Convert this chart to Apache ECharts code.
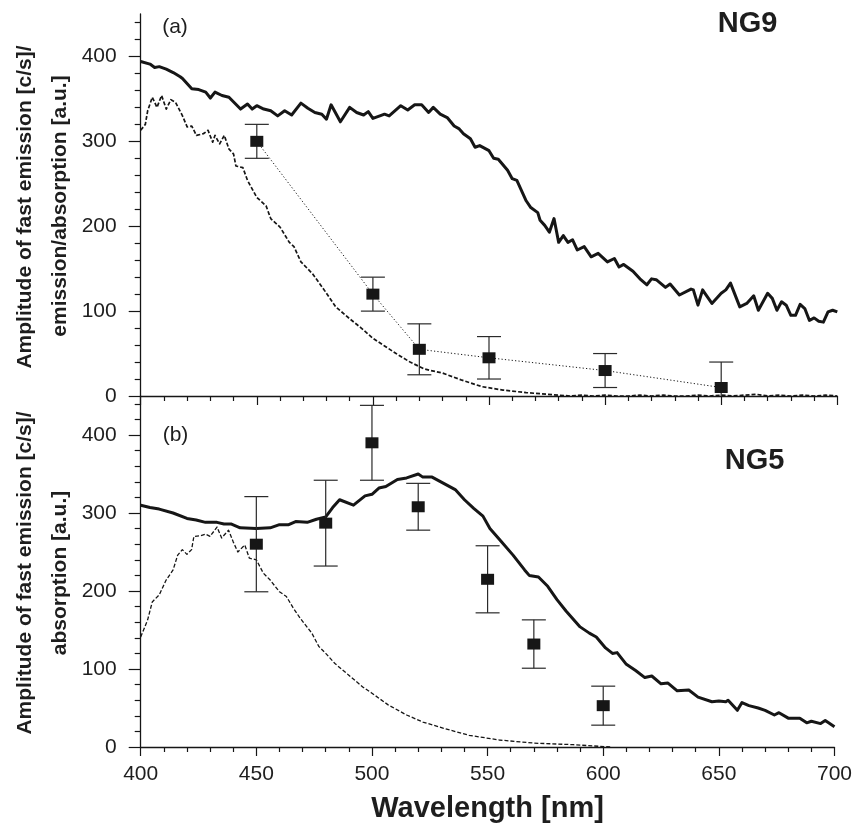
<!DOCTYPE html>
<html>
<head>
<meta charset="utf-8">
<script src="https://cdn.jsdelivr.net/npm/echarts@6/dist/echarts.min.js"></script>
<style>
  html, body { margin: 0; padding: 0; background: #fff; }
  #chart { width: 855px; height: 824px; }
</style>
</head>
<body>
<div id="chart"></div>
<script>
// ---- Panel (a): NG9 ----
const ng9EmissionWl = [400,404,406,408,411,414,417,418,422,425,428,430,432,435,438,443,446,448,450,453,456,459,462,465,469,472,475,478,480,482,486,490,493,496,498,500,503,505,507,512,515,518,521,524,526,529,532,535,537,539,542,544,546,550,552,554,558,560,562,564,566,568,571,572,574,576,578,580,582,584,586,588,591,594,597,601,604,606,608,612,615,618,620,622,626,628,632,637,638,640,642,643,646,650,652,654,658,661,664,666,670,672,674,676,678,680,682,684,686,688,690,692,694,696,698,700];
const ng9Emission = [394,391,387,388,385,381,376,374,362,361,358,351,358,354,352,338,344,338,342,338,336,330,336,331,345,339,334,332,326,343,323,340,334,331,335,327,330,332,330,342,337,343,343,334,340,332,328,318,315,309,303,293,295,289,280,279,266,256,254,242,230,222,216,207,201,193,209,181,189,181,184,172,176,164,168,158,162,152,155,147,138,131,138,137,128,132,119,126,125,107,125,121,109,121,125,133,105,109,118,101,121,115,101,111,107,95,95,108,103,89,92,88,87,99,101,99];

const ng9AbsorptionWl = [400,402,403,405,407,409,411,413,415,418,420,422,424,427,429,431,432,434,436,438,440,441,444,446,450,454,456,460,464,466,469,474,479,484,490,495,500,505,510,516,522,525,530,538,547,556,566,580,585,590,595,600,605,610,615,620,625,630,635,640,645,650,655,660,665,670,675,680,685,690,695,700];
const ng9Absorption = [313,320,336,352,340,354,338,349,346,330,317,318,307,309,313,299,307,297,307,291,285,271,269,254,234,224,209,199,181,176,158,144,125,105,91,80,68,59,50,40,32,30,27,19,11,7,4,1,0,1,0,1,0,0,1,0,1,0,0,1,0,1,0,1,2,0,1,0,1,0,1,0];

const ng9FastWl = [450, 500, 520, 550, 600, 650];
const ng9Fast = [300, 120, 55, 45, 30, 10];
const ng9FastErr = [20, 20, 30, 25, 20, 30];

// ---- Panel (b): NG5 ----
const ng5EmissionWl = [400,404,408,414,420,424,428,433,436,439,443,450,456,460,464,467,472,476,480,483,486,492,497,500,503,506,511,515,520,522,526,531,536,540,544,548,551,556,561,566,568,572,576,580,584,590,594,597,601,604,606,610,614,618,621,625,628,632,637,641,647,650,653,654,658,660,663,667,670,674,676,680,685,688,690,694,696,700];
const ng5Emission = [310,307,305,300,293,291,288,288,286,286,281,280,281,285,285,289,288,292,295,307,317,310,322,324,332,334,343,345,350,346,346,338,330,317,306,296,280,263,246,227,220,218,206,189,174,154,146,141,127,120,121,106,98,89,91,81,82,72,73,64,58,59,58,60,47,57,53,50,47,41,44,37,37,31,33,30,34,26];

const ng5AbsorptionWl = [400,403,405,408,411,414,416,418,420,422,423,426,428,430,433,435,438,440,442,445,447,450,453,456,460,463,466,469,474,477,480,484,490,496,500,507,515,522,531,542,555,570,587,603];
const ng5Absorption = [141,163,186,195,214,227,246,253,247,253,270,271,273,270,282,268,278,263,250,259,242,240,223,214,199,193,178,165,146,129,120,107,92,77,69,54,41,32,24,15,9,5,3,0];

const ng5FastWl = [450, 480, 500, 520, 550, 570, 600];
const ng5Fast = [260, 287, 390, 308, 215, 132, 53];
const ng5FastErr = [61, 55, 48, 30, 43, 31, 25];

// ---- Axis ticks ----
const xMin = 400, xMax = 700, xStep = 50;
const yMin = 0, yMax = 450;
const yMajorTicks = [0, 100, 200, 300, 400];
const yMinorTicks = [20, 40, 60, 80, 120, 140, 160, 180, 220, 240, 260, 280, 320, 340, 360, 380, 420, 440];

const pairs = (xs, ys) => xs.map((x, i) => [x, ys[i]]);
const triples = (xs, ys, es) => xs.map((x, i) => [x, ys[i], es[i]]);

const INK = '#161616';
const TEXT = '#1e1e1e';
const FONT = '"Liberation Sans", Arial, Helvetica, sans-serif';

function xAxisFor(gridIndex, withLabels) {
  return {
    type: 'value', gridIndex, min: xMin, max: xMax, interval: xStep,
    axisLine: { show: true, lineStyle: { color: INK, width: 1.3 } },
    axisTick: { show: true, length: 9, lineStyle: { color: INK, width: 1.2 } },
    minorTick: { show: true, splitNumber: 5, length: 5, lineStyle: { color: INK, width: 1.2 } },
    splitLine: { show: false },
    axisLabel: { show: withLabels, fontSize: 21, color: TEXT, fontFamily: FONT, margin: 17 },
    name: withLabels ? 'Wavelength [nm]' : '',
    nameLocation: 'middle', nameGap: 47,
    nameTextStyle: { fontSize: 29, fontWeight: 'bold', color: TEXT, fontFamily: FONT }
  };
}

function yAxesFor(gridIndex) {
  return [{
    type: 'value', gridIndex, min: yMin, max: yMax, position: 'left',
    axisLine: { show: true, lineStyle: { color: INK, width: 1.3 } },
    axisTick: { show: true, length: 12, customValues: yMajorTicks, lineStyle: { color: INK, width: 1.2 } },
    axisLabel: { show: true, customValues: yMajorTicks, fontSize: 21, color: TEXT, fontFamily: FONT, margin: 24 },
    splitLine: { show: false }
  }, {
    type: 'value', gridIndex, min: yMin, max: yMax, position: 'left', offset: 0,
    axisLine: { show: false },
    axisTick: { show: true, length: 6, customValues: yMinorTicks, lineStyle: { color: INK, width: 1.2 } },
    axisLabel: { show: false },
    splitLine: { show: false }
  }];
}

function errorBars(xAxisIndex, yAxisIndex, data) {
  return {
    type: 'custom', xAxisIndex, yAxisIndex, clip: true, z: 3,
    data,
    encode: { x: 0, y: 1 },
    renderItem(params, api) {
      const x = api.value(0), v = api.value(1), e = api.value(2);
      const top = api.coord([x, v + e]);
      const bot = api.coord([x, v - e]);
      const half = 12;
      const style = { stroke: '#2a2a2a', lineWidth: 1.2 };
      return {
        type: 'group',
        children: [
          { type: 'line', shape: { x1: top[0], y1: top[1], x2: bot[0], y2: bot[1] }, style },
          { type: 'line', shape: { x1: top[0] - half, y1: top[1], x2: top[0] + half, y2: top[1] }, style },
          { type: 'line', shape: { x1: bot[0] - half, y1: bot[1], x2: bot[0] + half, y2: bot[1] }, style }
        ]
      };
    }
  };
}

function curve(xAxisIndex, yAxisIndex, data, width, dash) {
  return {
    type: 'line', xAxisIndex, yAxisIndex, data, showSymbol: false, symbol: 'none',
    lineStyle: { color: INK, width, type: dash || 'solid', join: 'round' },
    silent: true, animation: false, z: 2
  };
}

const option = {
  animation: false,
  backgroundColor: '#fff',
  grid: [
    { left: 140.7, top: 14, width: 696.6, height: 382, containLabel: false },
    { left: 140.7, top: 396, width: 696.6, height: 351, containLabel: false }
  ],
  xAxis: [xAxisFor(0, false), xAxisFor(1, true)],
  yAxis: [...yAxesFor(0), ...yAxesFor(1)],
  series: [
    curve(0, 0, pairs(ng9EmissionWl, ng9Emission), 3),
    curve(0, 0, pairs(ng9AbsorptionWl, ng9Absorption), 1.7, [4, 2]),
    errorBars(0, 0, triples(ng9FastWl, ng9Fast, ng9FastErr)),
    {
      type: 'line', xAxisIndex: 0, yAxisIndex: 0,
      data: pairs(ng9FastWl, ng9Fast),
      symbol: 'rect', symbolSize: [13, 11], showSymbol: true,
      itemStyle: { color: INK, opacity: 1 },
      lineStyle: { color: INK, width: 1, type: [1.2, 2.2] },
      z: 4
    },
    curve(1, 2, pairs(ng5EmissionWl, ng5Emission), 3),
    curve(1, 2, pairs(ng5AbsorptionWl, ng5Absorption), 1.3, [4, 2]),
    errorBars(1, 2, triples(ng5FastWl, ng5Fast, ng5FastErr)),
    {
      type: 'scatter', xAxisIndex: 1, yAxisIndex: 2,
      data: pairs(ng5FastWl, ng5Fast),
      symbol: 'rect', symbolSize: [13, 11],
      itemStyle: { color: INK, opacity: 1 }, z: 4
    }
  ],
  graphic: [
    { type: 'text', x: 175, y: 27, style: { text: '(a)', font: '21px ' + FONT, fill: TEXT, textAlign: 'center', textVerticalAlign: 'middle' } },
    { type: 'text', x: 747.5, y: 24, style: { text: 'NG9', font: 'bold 29px ' + FONT, fill: TEXT, textAlign: 'center', textVerticalAlign: 'middle' } },
    { type: 'text', x: 175.5, y: 435, style: { text: '(b)', font: '21px ' + FONT, fill: TEXT, textAlign: 'center', textVerticalAlign: 'middle' } },
    { type: 'text', x: 754.5, y: 461, style: { text: 'NG5', font: 'bold 29px ' + FONT, fill: TEXT, textAlign: 'center', textVerticalAlign: 'middle' } },
    { type: 'text', x: 25, y: 207, rotation: Math.PI / 2, style: { text: 'Amplitude of fast emission [c/s]/', font: 'bold 21px ' + FONT, fill: TEXT, textAlign: 'center', textVerticalAlign: 'middle' } },
    { type: 'text', x: 60, y: 206, rotation: Math.PI / 2, style: { text: 'emission/absorption [a.u.]', font: 'bold 21px ' + FONT, fill: TEXT, textAlign: 'center', textVerticalAlign: 'middle' } },
    { type: 'text', x: 25, y: 573, rotation: Math.PI / 2, style: { text: 'Amplitude of fast emission [c/s]/', font: 'bold 21px ' + FONT, fill: TEXT, textAlign: 'center', textVerticalAlign: 'middle' } },
    { type: 'text', x: 60, y: 573, rotation: Math.PI / 2, style: { text: 'absorption [a.u.]', font: 'bold 21px ' + FONT, fill: TEXT, textAlign: 'center', textVerticalAlign: 'middle' } }
  ]
};

const chart = echarts.init(document.getElementById('chart'), null, { renderer: 'canvas' });
chart.setOption(option);
</script>
</body>
</html>
